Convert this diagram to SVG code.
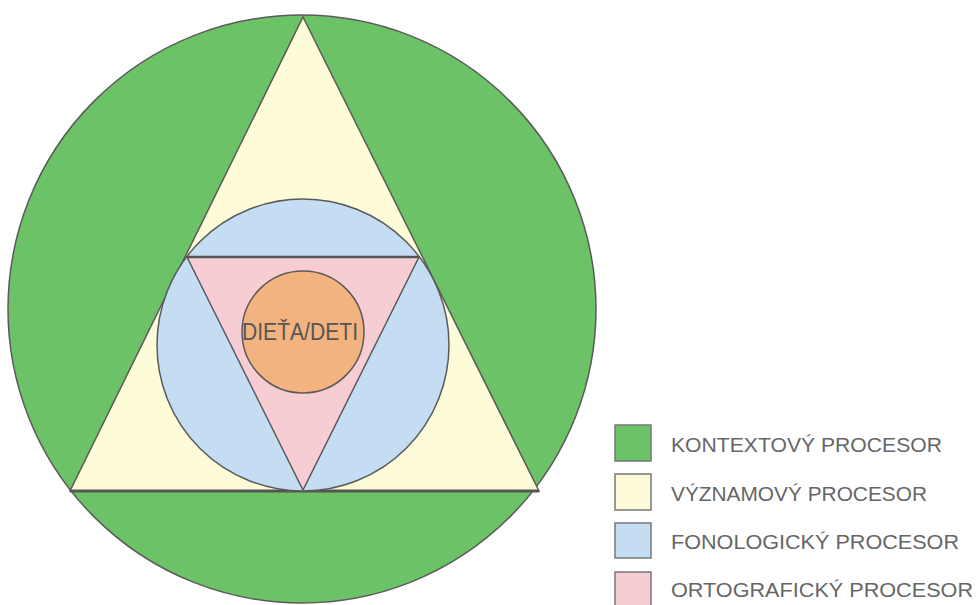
<svg xmlns="http://www.w3.org/2000/svg" width="976" height="605" viewBox="0 0 976 605">
<style>
.sh{stroke:#5a5a5a;stroke-width:1.5}
.g{fill:#6cc266}.y{fill:#fdfbd8}.b{fill:#c5ddf3}.p{fill:#f6cdd2}.o{fill:#f3b37f}
.lt{font-family:"Liberation Sans",Arial,sans-serif;font-size:20px;fill:#666}
.ct{font-family:"Liberation Sans",Arial,sans-serif;font-size:23px;fill:#555}
.sq{stroke:#777;stroke-width:1.5}
</style>
<rect width="976" height="605" fill="#ffffff"/>
<g id="kontext"><circle class="g sh" cx="302" cy="309" r="294"/></g>
<g id="vyznam"><polygon class="y sh" points="303,17 539,491 70,491"/><line x1="70" y1="491" x2="539" y2="491" stroke="#555" stroke-width="3"/></g>
<g id="fonolog"><circle class="b sh" cx="303" cy="345" r="146"/></g>
<g id="ortograf"><polygon class="p sh" points="187,257 419,257 303,490"/><line x1="187" y1="257" x2="419" y2="257" stroke="#555" stroke-width="2.5"/></g>
<g id="dieta"><circle class="o sh" cx="303" cy="332" r="61"/>
<text class="ct" x="300" y="340" text-anchor="middle" textLength="116" lengthAdjust="spacingAndGlyphs">DIEŤA/DETI</text></g>
<g id="legend">
<rect class="g sq" x="615" y="425" width="36" height="36"/>
<text class="lt" x="671" y="452" textLength="271" lengthAdjust="spacingAndGlyphs">KONTEXTOVÝ PROCESOR</text>
<rect class="y sq" x="615" y="474" width="36" height="36" stroke="#6a5a80"/>
<text class="lt" x="671" y="501" textLength="256" lengthAdjust="spacingAndGlyphs">VÝZNAMOVÝ PROCESOR</text>
<rect class="b sq" x="615" y="523" width="36" height="35"/>
<text class="lt" x="671" y="549" textLength="288" lengthAdjust="spacingAndGlyphs">FONOLOGICKÝ PROCESOR</text>
<rect class="p sq" x="615" y="572" width="36" height="36"/>
<text class="lt" x="671" y="597" textLength="302" lengthAdjust="spacingAndGlyphs">ORTOGRAFICKÝ PROCESOR</text>
</g>
</svg>
